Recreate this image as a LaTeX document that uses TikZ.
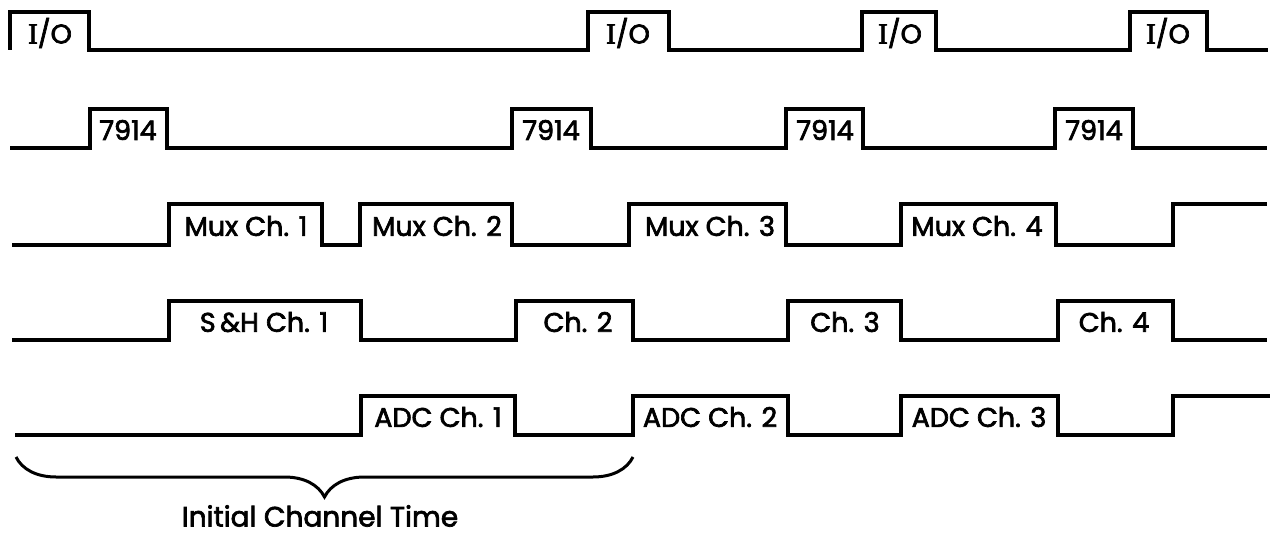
\documentclass[tikz,border=0pt]{standalone}
\usepackage{fontspec}
\setmainfont{Poppins}
\newfontfamily\lblfont{Poppins}[FakeBold=2.5]
\newfontfamily\slabfont{Liberation Serif}[FakeBold=2.5]
\usetikzlibrary{decorations.pathreplacing}

\begin{document}
\begin{tikzpicture}[x=1pt,y=-1pt,
  wave/.style={line width=3.2pt,line join=miter},
  lbl/.style={font=\lblfont\fontsize{27}{32}\selectfont,inner sep=0pt},
  brc/.style={line width=3pt,decorate,decoration={brace,mirror,amplitude=40pt}}]
\useasboundingbox (0,0) rectangle (1280,537);
% I/O
\draw[wave] (10,50) |- (89,12) |- (588,50) |- (669,12) |- (862,50) |- (936,12)
  |- (1130,50) |- (1207,12) |- (1268,50);
% 7914
\draw[wave] (10,148) -| (90,109) -| (167,148) -| (512,109) -| (591,148)
  -| (786,109) -| (863,148) -| (1055,109) -| (1133,148) -- (1267,148);
% multiplexer
\draw[wave] (12,245) -| (169,204) -| (322,245) -| (360,204) -| (512,245)
  -| (629,204) -| (786,245) -| (901,204) -| (1056,245) -| (1173,204) -- (1267,204);
% sample and hold
\draw[wave] (12,340) -| (169,301) -| (361,340) -| (516,301) -| (633,340)
  -| (788,301) -| (901,340) -| (1058,301) -| (1173,340) -- (1267,340);
% converter
\draw[wave] (15,435) -| (361,396) -| (515,435) -| (633,396) -| (788,435)
  -| (901,396) -| (1058,435) -| (1173,396) -- (1270,396);

\foreach \x [count=\i] in {50,628,900,1168}
  \node[lbl] (io\i) at (\x,33) {{\slabfont\fontsize{29}{32}\selectfont I}/O};
\foreach \x [count=\i] in {128,551,825,1094}
  \node[lbl] (cpu\i) at (\x,130) {7914};
\foreach \x [count=\i] in {246,437,710,977}
  \node[lbl] (mux\i) at (\x,226) {Mux Ch. \i};
\node[lbl] (sh1) at (264,322) {S\,\&H Ch. 1};
\foreach \x [count=\i from 2] in {578,845,1114}
  \node[lbl] (sh\i) at (\x,322) {Ch. \i};
\foreach \x [count=\i] in {438,710,979}
  \node[lbl] (adc\i) at (\x,417) {ADC Ch. \i};

\coordinate (bl) at (16,457);
\coordinate (br) at (633,457);
\draw[brc] (bl) -- (br);
\node[lbl,font=\lblfont\fontsize{28}{32}\selectfont] (init) at (320,516) {Initial Channel Time};
\end{tikzpicture}
\end{document}
